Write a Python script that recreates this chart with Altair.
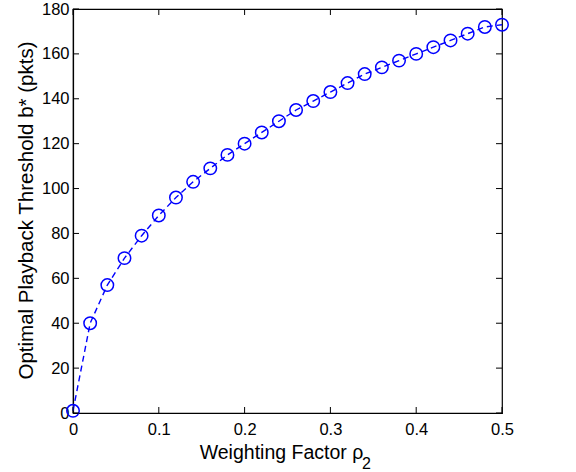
import altair as alt
import pandas as pd

rho2 = [0.00, 0.02, 0.04, 0.06, 0.08, 0.10, 0.12, 0.14, 0.16, 0.18, 0.20, 0.22, 0.24,
        0.26, 0.28, 0.30, 0.32, 0.34, 0.36, 0.38, 0.40, 0.42, 0.44, 0.46, 0.48, 0.50]
bstar = [1, 40, 57, 69, 79, 88, 96, 103, 109, 115, 120, 125, 130,
         135, 139, 143, 147, 151, 154, 157, 160, 163, 166, 169, 172, 173]
xticks = [0, 0.1, 0.2, 0.3, 0.4, 0.5]
yticks = [0, 20, 40, 60, 80, 100, 120, 140, 160, 180]

df = pd.DataFrame({"x": rho2, "y": bstar})
xt = pd.DataFrame({"t": xticks})
yt = pd.DataFrame({"t": yticks})

FONT = "Liberation Sans, Arial, sans-serif"
W, H = 429, 404
BLUE = "#0000ff"

xscale = alt.Scale(domain=[0, 0.5], nice=False, zero=False)
yscale = alt.Scale(domain=[0, 180], nice=False)

xaxis = alt.Axis(values=xticks, format="~g", tickSize=0, labelPadding=8,
                 labelFontSize=16.5, labelFont=FONT, labelColor="black",
                 domainColor="black", domainWidth=1.2,
                 title="Weighting Factor ρ", titleFont=FONT, titleFontSize=19.5,
                 titleFontWeight="normal", titleColor="black",
                 titleX=208, titleY=45.5, titleBaseline="alphabetic", titleAlign="center",
                 grid=False, labelFlush=False)
yaxis = alt.Axis(values=yticks, tickSize=0, labelPadding=4,
                 labelFontSize=16.5, labelFont=FONT, labelColor="black",
                 domainColor="black", domainWidth=1.2,
                 title="Optimal Playback Threshold b* (pkts)", titleFont=FONT,
                 titleFontSize=20.5, titleFontWeight="normal", titleColor="black",
                 titleX=-41, titleY=201, titleAngle=-90, titleBaseline="alphabetic",
                 titleAlign="center", grid=False, labelFlush=False)

line = alt.Chart(df).mark_line(color=BLUE, strokeDash=[6, 4], strokeWidth=1.4).encode(
    x=alt.X("x:Q", scale=xscale, axis=xaxis),
    y=alt.Y("y:Q", scale=yscale, axis=yaxis),
)
pts = alt.Chart(df).mark_point(shape="circle", filled=False, color=BLUE, size=155,
                               strokeWidth=1.5, opacity=1).encode(
    x=alt.X("x:Q", scale=xscale),
    y=alt.Y("y:Q", scale=yscale),
)

TL = 6
xt_bot = alt.Chart(xt).mark_rule(color="black", strokeWidth=1).encode(
    x=alt.X("t:Q", scale=xscale), y=alt.value(H), y2=alt.value(H - TL))
xt_top = alt.Chart(xt).mark_rule(color="black", strokeWidth=1).encode(
    x=alt.X("t:Q", scale=xscale), y=alt.value(0), y2=alt.value(TL))
yt_left = alt.Chart(yt).mark_rule(color="black", strokeWidth=1).encode(
    y=alt.Y("t:Q", scale=yscale), x=alt.value(0), x2=alt.value(TL))
yt_right = alt.Chart(yt).mark_rule(color="black", strokeWidth=1).encode(
    y=alt.Y("t:Q", scale=yscale), x=alt.value(W), x2=alt.value(W - TL))

sub = alt.Chart(pd.DataFrame({"s": ["2"]})).mark_text(
    font=FONT, fontSize=16, color="black", align="left", baseline="alphabetic",
    clip=False).encode(text="s:N", x=alt.value(289), y=alt.value(460))

chart = alt.layer(line, pts, xt_bot, xt_top, yt_left, yt_right, sub).properties(
    width=W, height=H,
    padding={"left": 73, "top": 9, "right": 74, "bottom": 59},
    autosize=alt.AutoSizeParams(type="none"),
    background="white",
).configure_view(stroke="black", strokeWidth=1.2)

chart.save("out.html", embed_options={"renderer": "svg", "actions": False})
